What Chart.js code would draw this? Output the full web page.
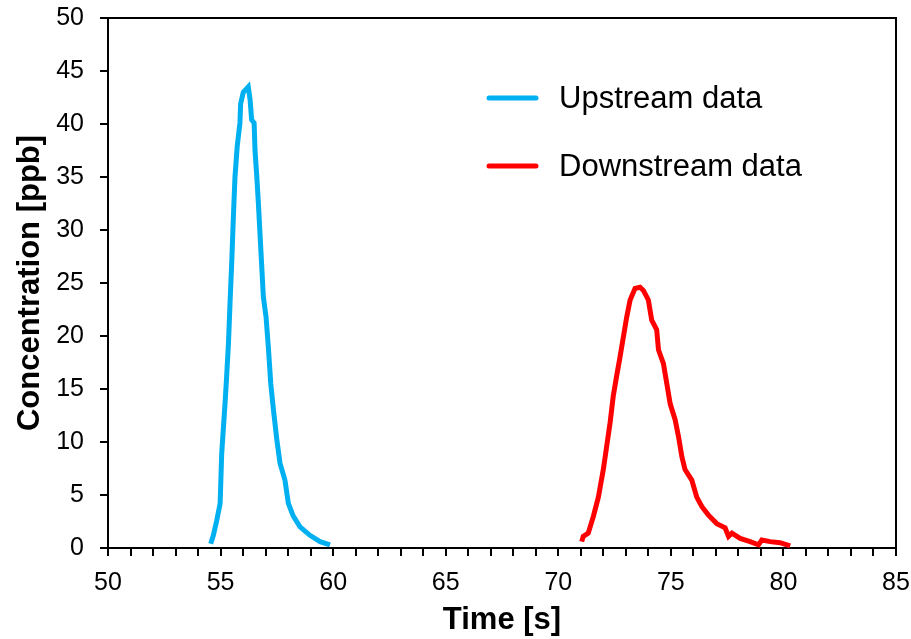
<!DOCTYPE html>
<html>
<head>
<meta charset="utf-8">
<script src="https://cdn.jsdelivr.net/npm/chart.js@4"></script>
<style>
  html, body { margin: 0; padding: 0; background: #fff; }
  #wrap { width: 911px; height: 639px; }
</style>
</head>
<body>
<div id="wrap"><canvas id="concChart" width="911" height="639"></canvas></div>
<script>
// Upstream peak (time in s, concentration in ppb)
var upTime = [54.56, 54.68, 54.83, 54.98, 55.05, 55.2, 55.27, 55.35, 55.42, 55.5, 55.57, 55.64, 55.74, 55.86, 55.89, 56.01, 56.23, 56.31, 56.38, 56.49, 56.53, 56.61, 56.68, 56.75, 56.83, 56.9, 57.02, 57.12, 57.23, 57.35, 57.5, 57.64, 57.86, 58.01, 58.23, 58.53, 58.97, 59.42, 59.86];
var upConc = [0.4, 1.2, 2.6, 4.2, 8.9, 13.7, 16.2, 19.3, 23.1, 27.2, 31.3, 35.0, 37.9, 40.1, 41.9, 43.0, 43.5, 42.3, 40.4, 40.1, 37.5, 35.0, 32.5, 29.7, 26.5, 23.7, 21.8, 19.0, 15.5, 13.0, 10.2, 8.0, 6.4, 4.2, 3.0, 2.0, 1.2, 0.6, 0.3];

// Downstream peak
var downTime = [71.04, 71.11, 71.33, 71.56, 71.78, 72.0, 72.15, 72.3, 72.44, 72.59, 72.74, 72.89, 73.04, 73.19, 73.41, 73.63, 73.78, 74.0, 74.15, 74.37, 74.45, 74.67, 74.82, 74.97, 75.19, 75.34, 75.49, 75.63, 75.93, 76.15, 76.38, 76.67, 77.04, 77.41, 77.56, 77.71, 78.08, 78.52, 78.89, 79.04, 79.41, 79.85, 80.3];
var downConc = [0.6, 1.1, 1.4, 3.0, 4.8, 7.4, 9.6, 11.8, 14.3, 16.2, 18.0, 19.9, 21.8, 23.4, 24.5, 24.6, 24.3, 23.4, 21.5, 20.6, 18.7, 17.4, 15.5, 13.6, 12.1, 10.5, 8.6, 7.4, 6.4, 4.8, 3.9, 3.1, 2.3, 1.9, 1.1, 1.4, 0.9, 0.6, 0.3, 0.75, 0.6, 0.5, 0.2];

var seriesNames = ["Upstream data", "Downstream data"];
var seriesColors = ["#00B0F0", "#FF0000"];

function toPoints(xs, ys) {
  return xs.map(function(x, i) { return { x: x, y: ys[i] }; });
}

var FONT = "'Liberation Sans', Arial, sans-serif";

// box around the plot (top and right sides)
var frame = {
  id: "frame",
  afterDraw: function(chart) {
    var a = chart.chartArea, ctx = chart.ctx;
    ctx.save();
    ctx.strokeStyle = "#000";
    ctx.lineWidth = 2;
    ctx.beginPath();
    ctx.moveTo(a.left, a.top);
    ctx.lineTo(a.right, a.top);
    ctx.lineTo(a.right, a.bottom);
    ctx.stroke();
    ctx.restore();
  }
};

// legend sitting inside the plot
var innerLegend = {
  id: "innerLegend",
  afterDraw: function(chart) {
    var ctx = chart.ctx;
    ctx.save();
    ctx.font = "31px " + FONT;
    ctx.textBaseline = "middle";
    ctx.textAlign = "left";
    chart.data.datasets.forEach(function(ds, i) {
      var y = 98 + i * 68;
      ctx.strokeStyle = ds.borderColor;
      ctx.lineWidth = 5;
      ctx.lineCap = "round";
      ctx.beginPath();
      ctx.moveTo(489, y);
      ctx.lineTo(536, y);
      ctx.stroke();
      ctx.fillStyle = "#000";
      ctx.fillText(ds.label, 559, y + 1);
    });
    ctx.restore();
  }
};

var ctx = document.getElementById("concChart").getContext("2d");

var concChart = new Chart(ctx, {
  type: "line",
  data: {
    datasets: [
      {
        label: seriesNames[0],
        data: toPoints(upTime, upConc),
        borderColor: seriesColors[0],
        borderWidth: 5,
        pointRadius: 0,
        tension: 0,
        clip: false
      },
      {
        label: seriesNames[1],
        data: toPoints(downTime, downConc),
        borderColor: seriesColors[1],
        borderWidth: 5,
        pointRadius: 0,
        tension: 0,
        clip: false
      }
    ]
  },
  options: {
    responsive: false,
    animation: false,
    layout: { padding: { top: 18, right: 15, left: 0, bottom: 0 } },
    plugins: {
      legend: { display: false },
      tooltip: { enabled: false }
    },
    scales: {
      x: {
        type: "linear",
        min: 50,
        max: 85,
        afterFit: function(s) { s.height = 91; s.paddingLeft = 0; s.paddingRight = 0; },
        border: { display: true, color: "#000", width: 2 },
        grid: { drawOnChartArea: false, drawTicks: true, tickLength: 8, tickColor: "#000", lineWidth: 2 },
        ticks: {
          stepSize: 1,
          autoSkip: false,
          maxRotation: 0,
          padding: 12,
          color: "#000",
          font: { family: FONT, size: 25 },
          callback: function(v) { return v % 5 === 0 ? v : ""; }
        },
        title: {
          display: true,
          text: "Time [s]",
          color: "#000",
          font: { family: FONT, size: 31, weight: "bold", lineHeight: 1.2 },
          padding: { top: 0, bottom: 0 }
        }
      },
      y: {
        min: 0,
        max: 50,
        afterFit: function(s) { s.width = 108; s.paddingTop = 0; s.paddingBottom = 0; },
        border: { display: true, color: "#000", width: 2 },
        grid: { drawOnChartArea: false, drawTicks: true, tickLength: 8, tickColor: "#000", lineWidth: 2 },
        ticks: {
          stepSize: 5,
          padding: 16,
          color: "#000",
          font: { family: FONT, size: 25 }
        },
        title: {
          display: true,
          text: "Concentration [ppb]",
          color: "#000",
          font: { family: FONT, size: 31, weight: "bold", lineHeight: 1.2 },
          padding: { top: 12, bottom: 0 }
        }
      }
    }
  },
  plugins: [frame, innerLegend]
});
</script>
</body>
</html>
